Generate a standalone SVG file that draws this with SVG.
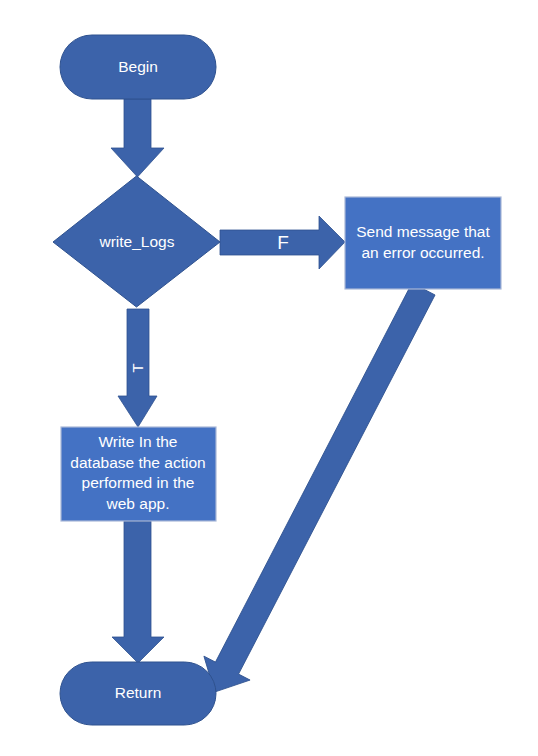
<svg xmlns="http://www.w3.org/2000/svg" width="538" height="756" viewBox="0 0 538 756">
<style>
.dk{fill:#3C63AA;stroke:#2F528F;stroke-width:1}
.bx{fill:#4472C4;stroke:#A9B8D8;stroke-width:1.2}
.ar{fill:#3C63AA;stroke:#2F528F;stroke-width:0.8}
text{font-family:"Liberation Sans","Noto Sans",sans-serif;font-size:15.5px;fill:#FFFFFF;text-anchor:middle}
</style>
<rect width="538" height="756" fill="#FFFFFF"/>
<g id="connectors">
<polygon class="ar" points="124,99 151,99 151,148 164,148 137.5,177 111,148 124,148"/>
<polygon class="ar" points="220,230 319,230 319,216 345,242 319,269 319,255 220,255"/>
<polygon class="ar" points="127,309 149,309 149,396 157,396 138,427 118,396 127,396"/>
<polygon class="ar" points="124,521 151,521 151,637 164,637 138,663 112,637 124,637"/>
<polygon class="ar" transform="translate(423.5,289) rotate(117.4)" points="0,-13 427,-13 427,-26 454,0 427,26 427,13 0,13"/>
<text x="283" y="249" style="font-size:19px">F</text>
<text transform="translate(138,368) rotate(-90)" y="5" style="font-size:15px">T</text>
</g>
<g id="begin">
<rect class="dk" x="60" y="35" width="156" height="64" rx="32" ry="32"/>
<text x="138" y="72">Begin</text>
</g>
<g id="write_logs">
<polygon class="dk" points="136.5,176 220,242 136.5,307 53,242"/>
<text x="137" y="247">write_Logs</text>
</g>
<g id="send_error">
<rect class="bx" x="345" y="197" width="156" height="92"/>
<text x="423" y="237">Send message that</text>
<text x="423" y="258">an error occurred.</text>
</g>
<g id="write_db">
<rect class="bx" x="61" y="427" width="155" height="94"/>
<text x="138" y="447">Write In the</text>
<text x="138" y="468">database the action</text>
<text x="138" y="488">performed in the</text>
<text x="138" y="509">web app.</text>
</g>
<g id="return">
<rect class="dk" x="60" y="662" width="156" height="63" rx="31.5" ry="31.5"/>
<text x="138" y="698">Return</text>
</g>
</svg>
